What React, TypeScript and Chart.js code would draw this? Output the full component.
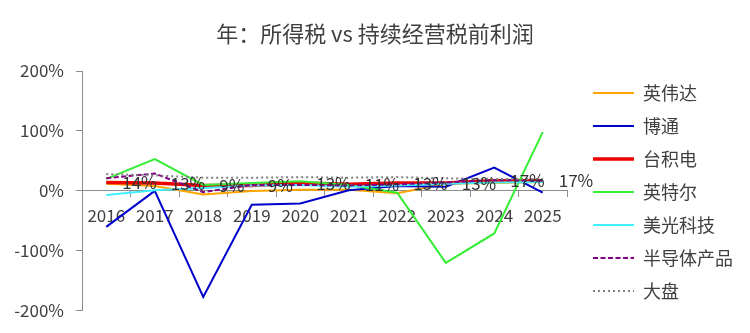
import React, { useEffect, useRef } from 'react';
import { Chart, registerables } from 'chart.js';

Chart.register(...registerables);

const categories = ['2016', '2017', '2018', '2019', '2020', '2021', '2022', '2023', '2024', '2025'];

const seriesNames = ['英伟达', '博通', '台积电', '英特尔', '美光科技', '半导体产品', '大盘'];

const nvidia = [12, 8, -6, 0, 2, 2, -4, 12, 13, 15];
const broadcom = [-60, 0, -177, -23, -21, 1, 8, 7, 39, -3];
const tsmc = [14, 13, 9, 9, 13, 11, 13, 13, 17, 17];
const intel = [20, 53, 10, 13, 16, 10, -3, -120, -71, 98];
const micron = [-7, 1, 5, 9, 10, 7, 9, 12, 14, 15];
const semis = [21, 29, -2, 10, 10, 9, 11, 14, 18, 17];
const market = [28, 26, 22, 22, 23, 22, 23, 21, 20, 20];

const yTicks = [-200, -100, 0, 100, 200];

const titleText = '年：所得税 vs 持续经营税前利润';

const FONT = '"Noto Sans CJK SC", "Noto Sans", sans-serif';
const TEXT = '#404040';
const AXIS = '#8c8c8c';

export default function App() {
  const ref = useRef<HTMLCanvasElement | null>(null);

  useEffect(() => {
    if (!ref.current) return;
    const seriesData = [nvidia, broadcom, tsmc, intel, micron, semis, market];
    const colors = ['#FFA500', '#0000CD', '#EE0000', '#33EE33', '#40F0FF', '#800080', '#808080'];
    const widths = [2, 2, 3.5, 2, 2, 2, 2];
    const dashes: number[][] = [[], [], [], [], [], [5, 2.5], [2, 3]];

    const datasets = seriesNames.map((name, i) => ({
      label: name,
      data: seriesData[i],
      borderColor: colors[i],
      backgroundColor: colors[i],
      borderWidth: widths[i],
      borderDash: dashes[i],
      pointRadius: 0,
      pointHoverRadius: 0,
      fill: false,
      tension: 0,
      order: -i,
      xAxisID: 'x',
      yAxisID: 'y',
    }));

    const labelPlugin = {
      id: 'tsmcLabels',
      afterDatasetsDraw(chart: any) {
        const meta = chart.getDatasetMeta(2);
        const ctx = chart.ctx;
        ctx.save();
        ctx.font = `17px ${FONT}`;
        ctx.fillStyle = '#333333';
        ctx.textAlign = 'left';
        ctx.textBaseline = 'middle';
        meta.data.forEach((el: any, i: number) => {
          ctx.fillText(`${tsmc[i]}%`, el.x + 16, el.y);
        });
        ctx.restore();
      },
    };

    // leave a gap between the category axis and the legend
    const axisTrimPlugin = {
      id: 'axisTrim',
      afterLayout(chart: any) {
        const s = chart.scales.x;
        s.right = chart.chartArea.right - 11;
        s.width = s.right - s.left;
        s.configure();
      },
    };

    const chart = new Chart(ref.current, {
      type: 'line',
      data: { labels: categories, datasets },
      plugins: [axisTrimPlugin, labelPlugin],
      options: {
        animation: false,
        responsive: false,
        maintainAspectRatio: false,
        events: [],
        layout: { padding: { left: 7, right: 7, top: 0, bottom: 0 } },
        plugins: {
          title: {
            display: true,
            text: titleText,
            color: TEXT,
            font: { family: FONT, size: 22, weight: 'normal', lineHeight: 1.2 },
            padding: { top: 20, bottom: 24.6 },
          },
          legend: {
            position: 'right',
            align: 'start',
            title: {
              display: true,
              text: '',
              padding: { top: 68, bottom: 0 },
              font: { size: 1, lineHeight: 1 },
            },
            labels: {
              usePointStyle: true,
              pointStyle: 'line',
              pointStyleWidth: 41,
              padding: 15,
              color: TEXT,
              font: { family: FONT, size: 18 },
              generateLabels: (c: any) =>
                c.data.datasets.map((ds: any, i: number) => ({
                  text: ds.label,
                  fillStyle: ds.borderColor,
                  strokeStyle: ds.borderColor,
                  lineWidth: ds.borderWidth,
                  lineDash: ds.borderDash || [],
                  lineCap: 'butt',
                  pointStyle: 'line',
                  hidden: false,
                  datasetIndex: i,
                  fontColor: TEXT,
                })),
            },
          },
          tooltip: { enabled: false },
        },
        scales: {
          x: {
            type: 'category',
            position: { y: 0 } as any,
            offset: true,
            grid: {
              display: true,
              drawOnChartArea: false,
              drawTicks: true,
              tickLength: 6,
              color: AXIS,
              offset: true,
            },
            border: { display: true, color: AXIS, width: 1 },
            ticks: {
              color: TEXT,
              font: { family: FONT, size: 17 },
              padding: 8,
              maxRotation: 0,
              autoSkip: false,
            },
          },
          xPad: {
            type: 'linear',
            position: 'bottom',
            display: true,
            grid: { display: false },
            ticks: { display: false },
            border: { display: false },
            afterFit: (s: any) => {
              s.height = 20;
            },
          },
          y: {
            type: 'linear',
            position: 'left',
            min: yTicks[0],
            max: yTicks[yTicks.length - 1],
            afterBuildTicks: (s: any) => {
              s.ticks = yTicks.map((v) => ({ value: v }));
            },
            ticks: {
              color: TEXT,
              font: { family: FONT, size: 17 },
              padding: 12,
              callback: (v: any) => `${v}%`,
            },
            grid: {
              drawOnChartArea: false,
              drawTicks: true,
              tickLength: 6,
              color: AXIS,
            },
            border: { display: true, color: AXIS, width: 1 },
            afterFit: (s: any) => {
              s.width = 75;
            },
          },
        },
      } as any,
    });

    return () => {
      chart.destroy();
    };
  }, []);

  return (
    <div style={{ position: 'absolute', left: 0, top: 0, width: 750, height: 333, background: '#fff' }}>
      <canvas ref={ref} width={750} height={333} style={{ display: 'block', width: 750, height: 333 }} />
    </div>
  );
}
